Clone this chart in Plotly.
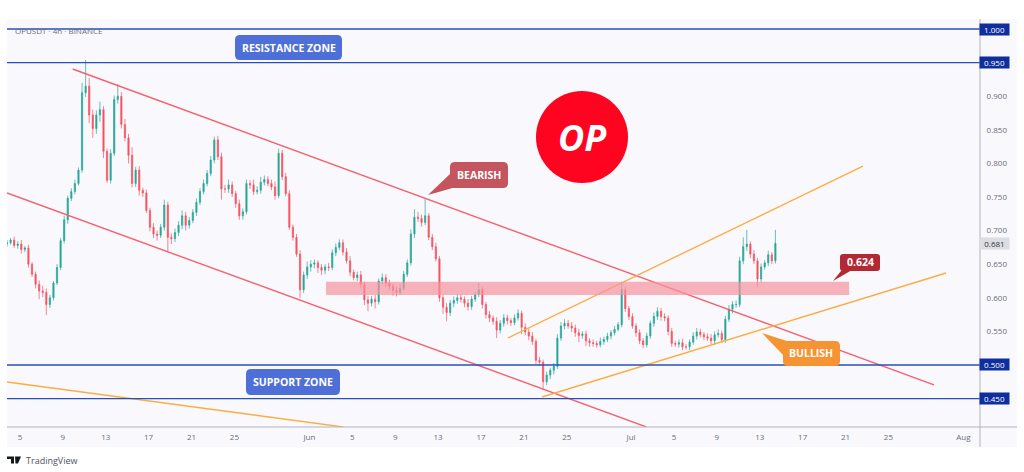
import pandas as pd
import plotly.graph_objs as go

W = 1024
H = 472

# 8h candles
closes = [
    .682, .686, .678, .680, .672, .674, .650, .635, .620, .610, .608, .590,
    .600, .622, .645, .685, .716, .748, .758, .770, .790, .905, .915, .872,
    .852, .872, .880, .818, .775, .815, .895, .900, .858, .838, .812, .770,
    .790, .760, .756, .730, .705, .695, .693, .705, .738, .690, .688, .697,
    .708, .722, .708, .715, .727, .742, .758, .770, .785, .805, .835, .810,
    .762, .762, .768, .755, .740, .722, .728, .770, .768, .758, .760, .772,
    .776, .770, .765, .752, .815, .780, .755, .705, .690, .665, .612, .634,
    .646, .650, .652, .645, .641, .646, .645, .667, .675, .682, .668, .655,
    .638, .630, .634, .620, .597, .592, .598, .594, .625, .630, .622, .617,
    .611, .608, .614, .635, .652, .695, .720, .718, .712, .722, .690, .676,
    .658, .600, .586, .578, .592, .596, .600, .598, .592, .587, .598, .605,
    .612, .590, .575, .570, .565, .552, .562, .570, .566, .563, .570, .577,
    .556, .549, .543, .535, .507, .504, .475, .485, .492, .498, .540, .558,
    .562, .558, .555, .548, .544, .546, .536, .533, .532, .530, .535, .538,
    .543, .548, .553, .560, .612, .584, .572, .558, .548, .536, .530, .543,
    .562, .572, .580, .572, .570, .550, .532, .531, .533, .527, .527, .534,
    .543, .549, .545, .542, .540, .536, .545, .547, .538, .568, .583, .590,
    .590, .655, .676, .680, .665, .655, .628, .646, .652, .664, .655, .681,
]
up_wick = [
    .004, .003, .005, .004, .006, .003, .005, .003, .004, .006, .008, .006,
    .004, .003, .005, .004, .006, .004, .005, .006, .004, .015, .039, .012,
    .008, .007, .012, .005, .004, .006, .006, .018, .006, .008, .006, .012,
    .005, .006, .004, .005, .004, .006, .005, .005, .008, .005, .006, .006,
    .006, .008, .006, .005, .005, .006, .005, .006, .005, .006, .005, .006,
    .006, .006, .008, .005, .004, .006, .005, .006, .005, .008, .006, .008,
    .006, .005, .006, .008, .007, .005, .006, .005, .004, .005, .006, .005,
    .008, .006, .005, .004, .005, .004, .006, .005, .006, .005, .005, .006,
    .007, .004, .005, .006, .004, .006, .005, .006, .004, .006, .005, .005,
    .004, .005, .006, .005, .005, .007, .012, .008, .006, .026, .004, .005,
    .006, .004, .004, .006, .005, .006, .006, .005, .004, .006, .005, .004,
    .010, .004, .004, .005, .004, .006, .005, .006, .005, .004, .005, .006,
    .004, .006, .005, .006, .004, .005, .004, .005, .004, .005, .006, .006,
    .006, .005, .006, .005, .006, .004, .005, .004, .005, .004, .006, .004,
    .005, .004, .005, .004, .012, .004, .004, .005, .004, .005, .004, .005,
    .004, .006, .006, .005, .005, .004, .005, .004, .005, .006, .004, .004,
    .006, .006, .005, .004, .005, .006, .005, .006, .004, .005, .006, .005,
    .006, .006, .014, .021, .004, .006, .004, .005, .004, .006, .004, .020,
]
down_wick = [
    .004, .003, .004, .005, .006, .004, .005, .004, .006, .012, .007, .016,
    .005, .004, .003, .004, .004, .006, .004, .004, .003, .004, .006, .012,
    .014, .008, .010, .010, .004, .005, .004, .006, .006, .005, .012, .006,
    .005, .008, .006, .004, .006, .006, .008, .004, .005, .022, .008, .005,
    .005, .006, .008, .005, .004, .005, .004, .004, .004, .004, .005, .005,
    .016, .006, .006, .005, .006, .006, .006, .004, .006, .005, .004, .005,
    .005, .004, .005, .006, .004, .005, .004, .004, .005, .004, .012, .005,
    .006, .007, .006, .008, .007, .006, .005, .004, .005, .004, .005, .004,
    .006, .004, .005, .006, .008, .012, .005, .010, .004, .005, .006, .005,
    .008, .006, .004, .003, .004, .004, .006, .005, .006, .004, .004, .005,
    .004, .006, .010, .013, .005, .006, .005, .005, .006, .006, .005, .004,
    .004, .006, .006, .006, .005, .012, .005, .005, .006, .005, .004, .004,
    .010, .005, .006, .005, .006, .005, .012, .005, .006, .006, .004, .004,
    .005, .004, .006, .006, .010, .005, .008, .006, .005, .004, .004, .005,
    .004, .005, .004, .003, .004, .005, .005, .004, .006, .005, .005, .004,
    .004, .005, .005, .006, .005, .006, .005, .004, .005, .005, .004, .005,
    .004, .005, .004, .005, .004, .005, .006, .004, .005, .005, .004, .006,
    .005, .004, .005, .006, .006, .005, .012, .005, .004, .005, .005, .004,
]
opens = [.680] + closes[:-1]
highs = [max(o, c) + u for o, c, u in zip(opens, closes, up_wick)]
lows = [min(o, c) - d for o, c, d in zip(opens, closes, down_wick)]
dates = pd.date_range('2024-05-03 19:00', periods=len(closes), freq='8h')

# trend lines
red_top_x = ['2024-05-09 22:00', '2024-07-29 06:00']
red_top_y = [.9405, .4703]
red_low_x = ['2024-05-03 19:00', '2024-07-02 10:00']
red_low_y = [.756, .4078]
orange_top_x = ['2024-06-19 12:30', '2024-07-22 15:00']
orange_top_y = [.5402, .7961]
orange_low_x = ['2024-06-22 16:30', '2024-07-30 09:00']
orange_low_y = [.4524, .6369]
orange_old_x = ['2024-05-03 19:00', '2024-06-04 03:00']
orange_old_y = [.4747, .4078]

levels = [1.0, .95, .5, .45]
zone_x = ['2024-06-02 13:00', '2024-07-21 08:00']
zone_y = [.604, .624]
last_price = .681

x_range = ['2024-05-03 19:00', '2024-08-02 13:00']
y_range = [.4077, 1.0149]
y_ticks = [.55, .6, .65, .7, .75, .8, .85, .9]
x_tick_vals = ['2024-05-05', '2024-05-09', '2024-05-13', '2024-05-17', '2024-05-21', '2024-05-25',
               '2024-06-01', '2024-06-05', '2024-06-09', '2024-06-13', '2024-06-17', '2024-06-21', '2024-06-25',
               '2024-07-01', '2024-07-05', '2024-07-09', '2024-07-13', '2024-07-17', '2024-07-21', '2024-07-25',
               '2024-08-01']
x_tick_text = ['5', '9', '13', '17', '21', '25', 'Jun', '5', '9', '13', '17', '21', '25',
               'Jul', '5', '9', '13', '17', '21', '25', 'Aug']

BLUE_LINE = '#2a50b8'
BLUE_LABEL = '#0f2f9e'
RED_LINE = '#f6606c'
ORANGE_LINE = '#fbad42'
FONT = 'Open Sans'


def px(x):
    return x / W


def py(y):
    return 1 - y / H


def rounded(x0, y0, x1, y1, r):
    # rounded box in pixels
    p = 'M %f,%f' % (px(x0 + r), py(y0))
    p += ' L %f,%f Q %f,%f %f,%f' % (px(x1 - r), py(y0), px(x1), py(y0), px(x1), py(y0 + r))
    p += ' L %f,%f Q %f,%f %f,%f' % (px(x1), py(y1 - r), px(x1), py(y1), px(x1 - r), py(y1))
    p += ' L %f,%f Q %f,%f %f,%f' % (px(x0 + r), py(y1), px(x0), py(y1), px(x0), py(y1 - r))
    p += ' L %f,%f Q %f,%f %f,%f Z' % (px(x0), py(y0 + r), px(x0), py(y0), px(x0 + r), py(y0))
    return p


def poly(points):
    return 'M ' + ' L '.join('%f,%f' % (px(a), py(b)) for a, b in points) + ' Z'


def box(x0, y0, x1, y1, r, color):
    return dict(type='path', xref='paper', yref='paper', path=rounded(x0, y0, x1, y1, r),
                fillcolor=color, line=dict(width=0), layer='above')


def tail(points, color):
    return dict(type='path', xref='paper', yref='paper', path=poly(points),
                fillcolor=color, line=dict(width=0), layer='above')


def label(x, y, text, size=10.5, color='white', **kw):
    return dict(xref='paper', yref='paper', x=px(x), y=py(y), text=text, showarrow=False,
                font=dict(family=FONT, size=size, color=color), xanchor=kw.pop('xanchor', 'center'),
                yanchor='middle', **kw)


def price_tag(price, text_color, bg):
    return dict(xref='paper', yref='y', x=px(994.5), y=price, text='%.3f' % price, showarrow=False,
                xanchor='center', yanchor='middle',
                font=dict(family=FONT, size=8, color=text_color), bgcolor=bg,
                width=29, height=11, borderpad=0)


def line(xs, ys, color, width=1.4):
    return go.Scatter(x=xs, y=ys, mode='lines', line=dict(color=color, width=width),
                      hoverinfo='skip', showlegend=False, cliponaxis=True)


candles = go.Candlestick(
    x=dates, open=opens, high=highs, low=lows, close=closes, showlegend=False, whiskerwidth=0,
    increasing=dict(line=dict(color='#26a69a', width=0.7), fillcolor='#26a69a'),
    decreasing=dict(line=dict(color='#f7525f', width=0.7), fillcolor='#f7525f'),
)

data = [candles,
        line(red_top_x, red_top_y, RED_LINE),
        line(red_low_x, red_low_y, RED_LINE),
        line(orange_top_x, orange_top_y, ORANGE_LINE),
        line(orange_low_x, orange_low_y, ORANGE_LINE),
        line(orange_old_x, orange_old_y, ORANGE_LINE)]
for level in levels:
    data.append(line(x_range, [level, level], BLUE_LINE))

shapes = [
    # chart panel behind everything
    dict(type='rect', xref='paper', yref='paper', x0=px(7), x1=px(1017), y0=py(447), y1=py(19),
         fillcolor='#f9f9fd', line=dict(width=0), layer='below'),
    dict(type='line', xref='paper', yref='paper', x0=px(980), x1=px(980), y0=py(447), y1=py(19),
         line=dict(color='#b2b5be', width=1), layer='above'),
    dict(type='line', xref='paper', yref='paper', x0=px(7), x1=px(1017), y0=py(427), y1=py(427),
         line=dict(color='#b2b5be', width=1), layer='above'),
    dict(type='rect', x0=zone_x[0], x1=zone_x[1], y0=zone_y[0], y1=zone_y[1],
         fillcolor='#f7939e', opacity=0.7, line=dict(width=0), layer='above'),
    box(235, 35, 342, 60, 5, '#4f6fd8'),
    box(246, 369, 340, 395, 5, '#4f6fd8'),
    tail([(451, 173), (428, 195), (456, 187)], '#c4555f'),
    box(450, 162, 508, 188, 5, '#c4555f'),
    tail([(845, 266), (833, 281), (852, 270)], '#b22833'),
    box(840, 254, 880, 271, 3, '#b22833'),
    tail([(762, 333), (790, 342), (784, 356)], '#f69333'),
    box(783, 341, 840, 366, 5, '#f69333'),
    dict(type='circle', xref='paper', yref='paper', x0=px(536), x1=px(628), y0=py(183), y1=py(91),
         fillcolor='#ff0420', line=dict(width=0), layer='above'),
    # TradingView mark
    tail([(7, 456.5), (14, 456.5), (14, 463.5), (11, 463.5), (11, 459), (7, 459)], '#131722'),
    tail([(15, 456.5), (21, 456.5), (18, 463.5), (15.5, 463.5)], '#131722'),
]

annotations = [
    label(13, 30, 'OPUSDT · 4h · BINANCE', size=8, color='#6a6d78', xanchor='left'),
    label(288.5, 47.5, '<b>RESISTANCE ZONE</b>'),
    label(293, 382, '<b>SUPPORT ZONE</b>'),
    label(479, 175, '<b>BEARISH</b>'),
    label(860, 262, '<b>0.624</b>'),
    label(811, 353, '<b>BULLISH</b>'),
    label(582, 137, '<b><i>OP</i></b>', size=36),
    label(24, 460, 'TradingView', size=9, color='#50535e', xanchor='left'),
]
for level in levels:
    annotations.append(price_tag(level, 'white', BLUE_LABEL))
annotations.append(price_tag(last_price, '#333640', '#dcdde3'))

layout = go.Layout(
    width=W, height=H,
    margin=dict(l=0, r=0, t=0, b=0),
    paper_bgcolor='white',
    plot_bgcolor='#f9f9fd',
    showlegend=False,
    hovermode='closest',
    boxgap=0.5,
    font=dict(family=FONT, size=8, color='#6a6d78'),
    xaxis=dict(
        domain=[px(7), px(980)],
        range=x_range,
        type='date',
        tickmode='array',
        tickvals=x_tick_vals,
        ticktext=x_tick_text,
        tickangle=0,
        showgrid=False,
        zeroline=False,
        rangeslider=dict(visible=False),
        ticks='outside',
        ticklen=2,
        tickcolor='rgba(0,0,0,0)',
    ),
    yaxis=dict(
        domain=[py(427), py(19)],
        range=y_range,
        side='right',
        tickmode='array',
        tickvals=y_ticks,
        tickformat='.3f',
        showgrid=False,
        zeroline=False,
        ticks='outside',
        ticklen=4,
        tickcolor='rgba(0,0,0,0)',
    ),
    shapes=shapes,
    annotations=annotations,
)

fig = go.Figure(data, layout=layout)
# the page has a default 8px body margin, drop it so pixels line up
fig.write_html("out.html", config=dict(displayModeBar=False),
               post_script="document.body.style.margin='0';")
